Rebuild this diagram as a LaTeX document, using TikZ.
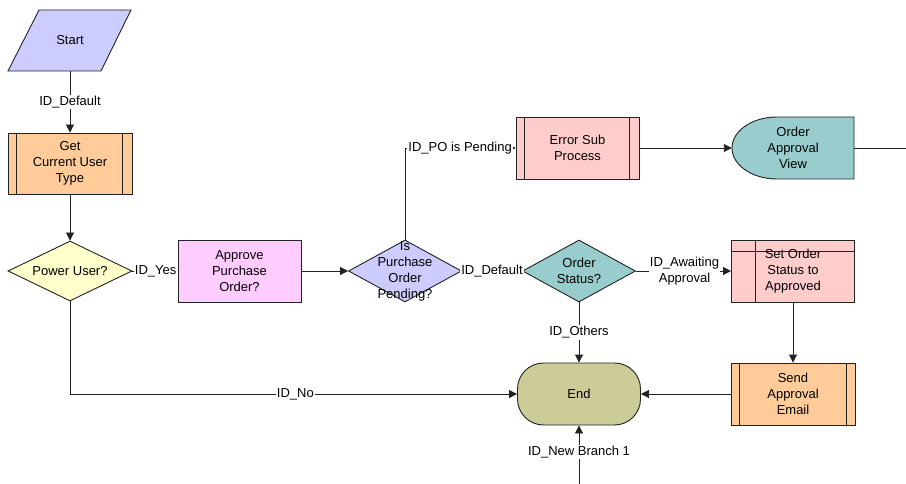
\documentclass[tikz,border=0pt]{standalone}
\usepackage{fontspec}
\setmainfont{Liberation Sans}
\usetikzlibrary{shapes.geometric,arrows.meta}
\definecolor{cLav}{HTML}{CCCCFF}
\definecolor{cOrange}{HTML}{FFCC99}
\definecolor{cYellow}{HTML}{FFFFCC}
\definecolor{cPink}{HTML}{FFCCFF}
\definecolor{cRose}{HTML}{FFCCCC}
\definecolor{cTeal}{HTML}{99CCCC}
\definecolor{cOlive}{HTML}{CCCC99}
\definecolor{cLine}{HTML}{222222}
\begin{document}
\begin{tikzpicture}[x=1pt,y=-1pt,
  every node/.style={font=\fontsize{13}{16}\selectfont},
  shp/.style={draw=cLine, line width=0.9pt, inner sep=0pt, align=center},
  box/.style={shp, rectangle, minimum width=123pt, minimum height=62pt},
  dia/.style={shp, diamond, minimum height=61pt},
  lbl/.style={fill=white, inner sep=1pt, align=center},
  arr/.style={draw=cLine, line width=0.9pt, -{Triangle[length=8pt,width=8pt]}},
  ln/.style={draw=cLine, line width=0.9pt}]
\useasboundingbox (0,0) rectangle (906,484);

% Start parallelogram
\draw[ln, fill=cLav] (39,10) -- (131,10) -- (101,71) -- (8,71) -- cycle;
\node[inner sep=0pt, minimum width=62pt, minimum height=61pt] (start) at (70,40.5) {Start};

% Get Current User Type
\node[box, fill=cOrange, minimum width=124pt, minimum height=61pt] (gcu) at (70,163.5) {Get\\Current User\\Type};
\draw[ln] ([xshift=9pt]gcu.north west) -- ([xshift=9pt]gcu.south west);
\draw[ln] ([xshift=-10pt]gcu.north east) -- ([xshift=-10pt]gcu.south east);

% Power User?
\node[dia, fill=cYellow, minimum width=124pt, minimum height=60pt, label={[align=center]center:Power User?}] (pu) at (70,271) {};

% Approve Purchase Order?
\node[box, fill=cPink] (apo) at (239.5,271) {Approve\\Purchase\\Order?};

% Is Purchase Order Pending?
\node[dia, fill=cLav, minimum width=113pt, minimum height=62pt, label={[align=center]center:Is\\Purchase\\Order\\Pending?}] (ipo) at (405,271) {};

% Error Sub Process
\node[box, fill=cRose] (esp) at (577.5,148) {Error Sub\\Process};
\draw[ln] ([xshift=9pt]esp.north west) -- ([xshift=9pt]esp.south west);
\draw[ln] ([xshift=-10pt]esp.north east) -- ([xshift=-10pt]esp.south east);

% Order Approval View (display shape)
\draw[ln, fill=cTeal] (777,117) -- (854,117) -- (854,179) -- (777,179)
  .. controls (752,179) and (732,165) .. (732,148)
  .. controls (732,131) and (752,117) .. (777,117) -- cycle;
\node[inner sep=0pt, minimum width=122pt, minimum height=62pt, align=center] (oav) at (793,148) {\hspace*{0pt}Order\\Approval\\View};
\coordinate (exit) at (906,148);

% Order Status?
\node[dia, fill=cTeal, minimum width=113pt, minimum height=62pt, label={[align=center]center:Order\\Status?}] (os) at (579,271) {};

% Set Order Status to Approved
\node[box, fill=cRose] (sos) at (793,271) {Set Order\\Status to\\Approved};
\draw[ln] ([xshift=24pt]sos.north west) -- ([xshift=24pt]sos.south west);
\draw[ln] ([yshift=-12pt]sos.north west) -- ([yshift=-12pt]sos.north east);

% Send Approval Email
\node[box, fill=cOrange, minimum width=124pt] (sae) at (793,394) {Send\\Approval\\Email};
\draw[ln] ([xshift=9pt]sae.north west) -- ([xshift=9pt]sae.south west);
\draw[ln] ([xshift=-9pt]sae.north east) -- ([xshift=-9pt]sae.south east);

% End
\node[box, fill=cOlive, rounded corners=26pt] (endn) at (579,394) {End};
\coordinate (nb) at (579,484);

% Connectors
\draw[arr] (start) -- (gcu) node[lbl, midway] {ID\_Default};
\draw[arr] (gcu) -- (pu);
\draw[arr] (pu.east) -- (apo.west) node[lbl, pos=0, anchor=west, xshift=1pt] {ID\_Yes};
\draw[arr] (apo.east) -- (ipo.west);
\draw[arr] (ipo.north) |- (esp.west) node[lbl, pos=0.5, anchor=west, xshift=2pt] {ID\_PO is Pending};
\draw[arr] (ipo.east) -- (os.west) node[lbl, midway] {ID\_Default};
\draw[arr] (os.east) -- (sos.west) node[lbl, midway, xshift=1pt] {ID\_Awaiting\\Approval};
\draw[arr] (esp.east) -- (oav.west);
\draw[ln] (oav.east) -- (exit);
\draw[arr] (sos) -- (sae);
\draw[arr] (sae.west) -- (endn.east);
\draw[arr] (pu.south) |- (endn.west) node[lbl, pos=0.752] {ID\_No};
\draw[arr] (os.south) -- (endn.north) node[lbl, midway] {ID\_Others};
\draw[arr] (nb) -- (endn.south) node[lbl, pos=0.55] {ID\_New Branch 1};
\end{tikzpicture}
\end{document}
